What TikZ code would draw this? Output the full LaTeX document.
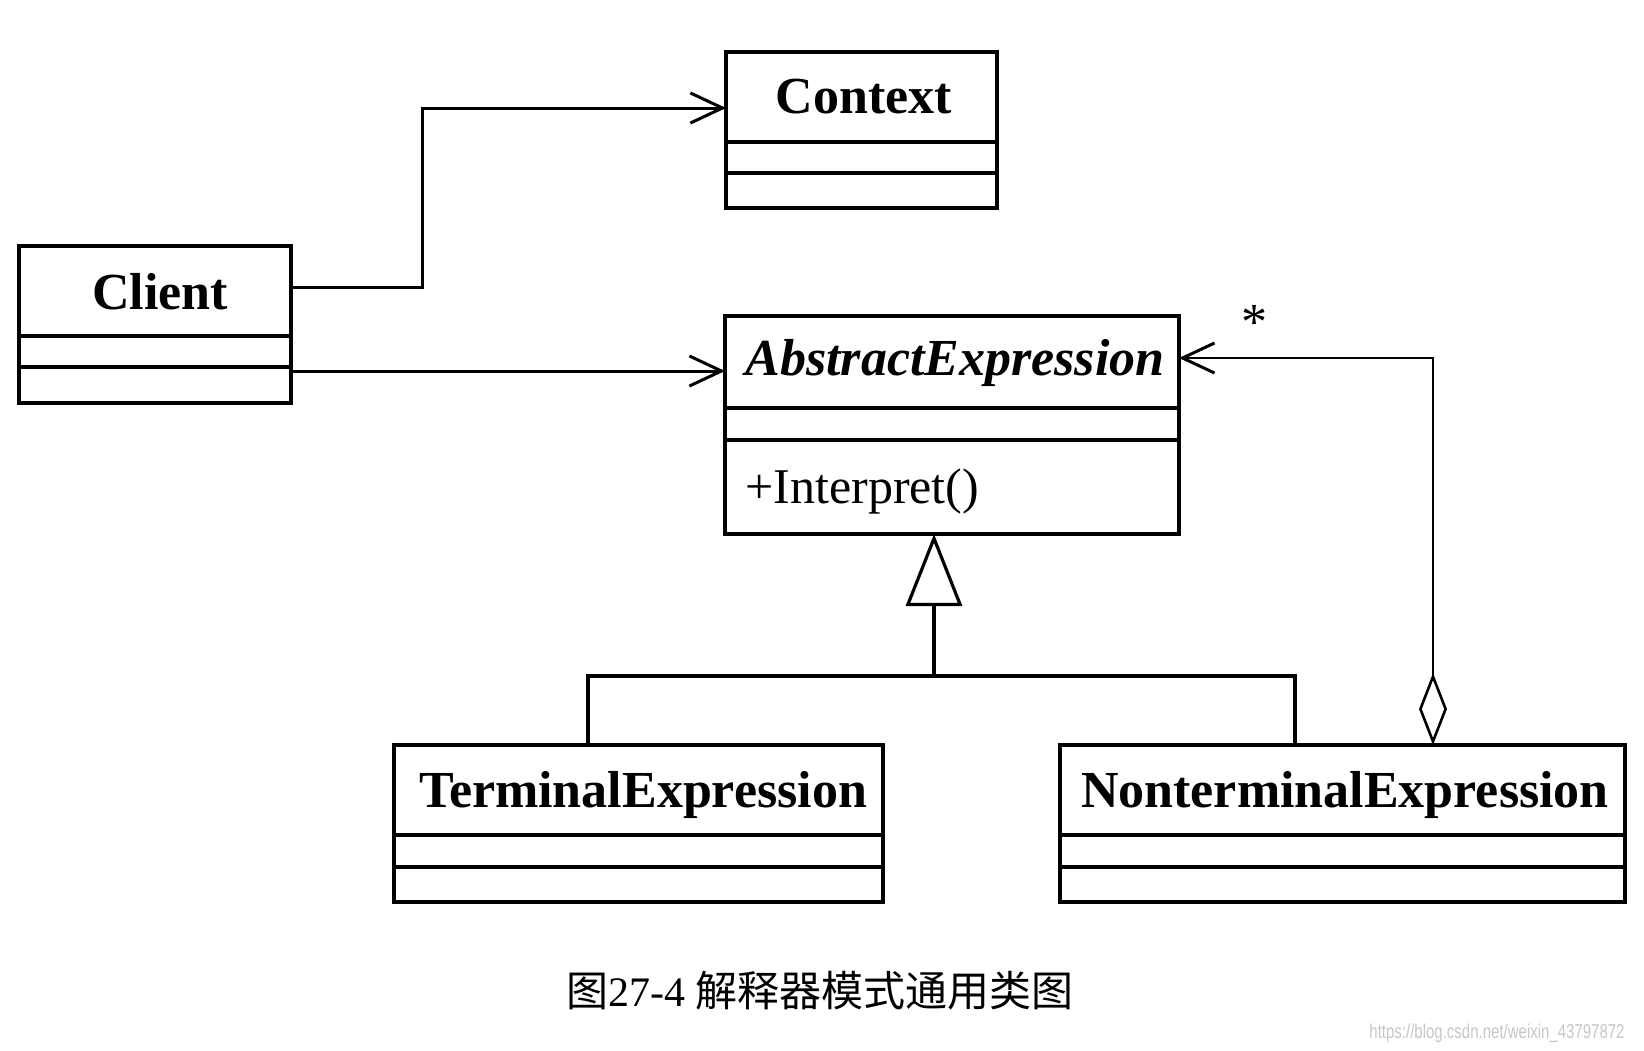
\documentclass[tikz,border=0pt]{standalone}
\usepackage{fontspec}
\usepackage{graphicx}
\setmainfont{Liberation Serif}
\newfontfamily\cjkfont{Noto Sans CJK SC}
\newfontfamily\wmfont{Liberation Sans}
\usetikzlibrary{arrows.meta,fit}
\begin{document}
\begin{tikzpicture}[x=0.5pt,y=-0.5pt,
  cls/.style={draw, line width=2.3pt, inner sep=0pt, outer sep=0pt},
  divider/.style={line width=2pt},
  title/.style={font=\fontsize{26}{30}\selectfont\bfseries, inner sep=0pt, anchor=base},
  member/.style={font=\fontsize{25}{30}\selectfont, inner sep=0pt, anchor=base west},
  assoc/.style={line width=1.5pt, -{Straight Barb[length=16pt,width=15pt,line width=1.5pt]}},
  genline/.style={line width=2.3pt, -{Triangle[open,length=36pt,width=28pt,line width=1.6pt,fill=white]}},
  branch/.style={line width=1.8pt},
  agg/.style={line width=1.3pt, {Diamond[open,length=36pt,width=14pt,line width=1.3pt,fill=white]}-{Straight Barb[length=16pt,width=15pt,line width=1.5pt]}}
]
\useasboundingbox (0,0) rectangle (1644,1050);
\fill[white] (0,0) rectangle (1644,1050);

% Client
\node[cls, fit={(19,246)(291,403)}] (client) {};
\draw[divider] (client.west |- 0,336) -- (client.east |- 0,336);
\draw[divider] (client.west |- 0,367) -- (client.east |- 0,367);
\node[title] (clientT) at (160,309) {Client};

% Context
\node[cls, fit={(726,52)(997,208)}] (ctx) {};
\draw[divider] (ctx.west |- 0,142) -- (ctx.east |- 0,142);
\draw[divider] (ctx.west |- 0,173) -- (ctx.east |- 0,173);
\node[title] (ctxT) at (864,113) {Context};

% AbstractExpression
\node[cls, fit={(725,316)(1179,534)}] (abs) {};
\draw[divider] (abs.west |- 0,408) -- (abs.east |- 0,408);
\draw[divider] (abs.west |- 0,440) -- (abs.east |- 0,440);
\node[title, font=\fontsize{26}{30}\selectfont\bfseries\itshape] (absT) at (955,375) {AbstractExpression};
\node[member] (absM) at (745,503) {+Interpret()};

% TerminalExpression
\node[cls, fit={(394,745)(883,902)}] (term) {};
\draw[divider] (term.west |- 0,835) -- (term.east |- 0,835);
\draw[divider] (term.west |- 0,867) -- (term.east |- 0,867);
\node[title] (termT) at (643,807) {TerminalExpression};

% NonterminalExpression
\node[cls, fit={(1060,745)(1625,902)}] (nonterm) {};
\draw[divider] (nonterm.west |- 0,835) -- (nonterm.east |- 0,835);
\draw[divider] (nonterm.west |- 0,867) -- (nonterm.east |- 0,867);
\node[title] (nontermT) at (1345,807) {NonterminalExpression};

% Associations from Client
\draw[assoc] (client.east |- 0,287) -| (422,108) -- (ctx.west |- 0,108);
\draw[assoc] (client.east |- 0,371) -- (abs.west |- 0,371);

% Generalization
\coordinate (junc) at (934,676);
\draw[genline] (junc) -- (junc |- abs.south);
\draw[branch] (term.north -| 588,0) |- (junc) -| (nonterm.north -| 1295,0);

% Aggregation
\draw[agg] (nonterm.north -| 1433,0) |- (abs.east |- 0,358);
\node[font=\fontsize{26}{30}\selectfont, anchor=base, inner sep=0pt] (star) at (1254,339) {*};

% Caption
\node[font=\fontsize{21}{25}\selectfont, inner sep=0pt] (cap) at (820,991) {\cjkfont 图\rmfamily 27-4 \cjkfont 解释器模式通用类图};

% Watermark
\node[text=black!22, inner sep=0pt, anchor=east] (wm) at (1625,1033) {\scalebox{0.75}[1]{\wmfont\fontsize{10}{12}\selectfont https://blog.csdn.net/weixin\_43797872}};
\end{tikzpicture}
\end{document}
